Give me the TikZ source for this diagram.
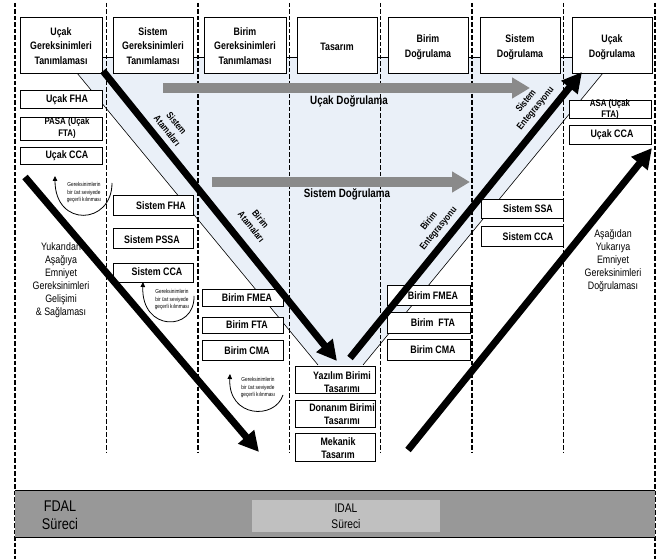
\documentclass[tikz,border=0pt]{standalone}
\usepackage{fontspec}
\setmainfont[FakeStretch=0.82]{Liberation Sans}
\usetikzlibrary{arrows.meta}

\definecolor{vfill}{HTML}{EAF0F8}
\definecolor{arrowgray}{HTML}{8A8A8A}
\definecolor{bandgray}{HTML}{989898}
\definecolor{idalgray}{HTML}{C0C0C0}

\tikzset{
  lane/.style={line width=1.5pt, dash pattern=on 4.5pt off 2pt},
  vedge/.style={line width=0.6pt},
  box/.style={draw, fill=white, line width=0.7pt, inner sep=0pt},
  boxtxt/.style={font=\fontsize{10.8}{13}\selectfont\bfseries, align=center, inner sep=0pt},
  pairtxt/.style={font=\fontsize{9.6}{11.5}\selectfont\bfseries, align=center, inner sep=0pt},
  toptxt/.style={font=\fontsize{10.8}{14.5}\selectfont\bfseries, align=center, inner sep=0pt},
  sidetxt/.style={font=\fontsize{10.8}{13}\selectfont, align=center, inner sep=0pt},
  tinytxt/.style={font=\fontsize{5.8}{7.5}\selectfont, align=center, inner sep=0pt},
  rottxt/.style={font=\fontsize{9.6}{12}\selectfont\bfseries, align=center, inner sep=0pt},
  flowtxt/.style={font=\fontsize{12}{14}\selectfont\bfseries, inner sep=0pt},
  bandtxt/.style={align=center, inner sep=0pt},
  bigarrow/.style={line width=7pt, -{Triangle[length=20pt,width=20pt]}},
  grayarrow/.style={arrowgray, line width=10pt, -{Triangle[length=18pt,width=20pt]}},
  loop/.style={line width=0.8pt, -{Triangle[length=5pt,width=4.5pt]}},
}

% box from corner (x1,y1) to corner (x2,y2), in picture units
\newcommand{\panelbox}[5]{%
  \node[box, minimum width={(#4-#2)*1pt}, minimum height={(#5-#3)*1pt}]
    (#1) at ({(#2+#4)/2},{(#3+#5)/2}) {};}

\begin{document}
\begin{tikzpicture}[x=1pt,y=-1pt]
\useasboundingbox (0,0) rectangle (665,559);

% shaded V between the two level edges
\fill[vfill] (77,57) -- (603,57) -- (603,73) -- (363,365) -- (318,365) -- (77,73) -- cycle;

% link line behind the top row
\coordinate (linkL) at (102,57);
\coordinate (linkR) at (572,57);
\draw[line width=0.6pt] (linkL) -- (linkR);

% swim lanes
\foreach \x in {106.4,197.9,289.3,380.7,472.1,563.6}
  \draw[lane] (\x,3) -- (\x,452);
\draw[lane] (15,3) -- (15,559);
\draw[lane] (655,3) -- (655,559);

% thin edges of the V
\coordinate (vl0) at (77,73);
\coordinate (vl1) at (318,365);
\coordinate (vr0) at (603,73);
\coordinate (vr1) at (363,365);
\draw[vedge] (vl0) -- (vl1);
\draw[vedge] (vr0) -- (vr1);

% top row
\panelbox{t1}{20}{17}{102}{73}
\panelbox{t2}{113}{17}{193}{73}
\panelbox{t3}{204}{17}{286}{73}
\panelbox{t4}{297}{17}{377}{73}
\panelbox{t5}{388}{17}{468}{73}
\panelbox{t6}{480}{17}{560}{73}
\panelbox{t7}{572}{17}{652}{73}
\node[toptxt] (t1t) at (61,46) {Uçak\\Gereksinimleri\\Tanımlaması};
\node[toptxt] (t2t) at (153,46) {Sistem\\Gereksinimleri\\Tanımlaması};
\node[toptxt] (t3t) at (245,46) {Birim\\Gereksinimleri\\Tanımlaması};
\node[toptxt] (t4t) at (337,47) {Tasarım};
\node[toptxt] (t5t) at (428,47) {Birim\\Doğrulama};
\node[toptxt] (t6t) at (520,47) {Sistem\\Doğrulama};
\node[toptxt] (t7t) at (612,47) {Uçak\\Doğrulama};

% aircraft level analyses
\panelbox{a1}{20}{90}{102}{108}
\panelbox{a2}{20}{117}{102}{140}
\panelbox{a3}{20}{147}{102}{164}
\node[boxtxt] (a1t) at (67,99.5) {Uçak FHA};
\node[pairtxt] (a2t) at (67,128) {PASA (Uçak\\FTA)};
\node[boxtxt] (a3t) at (67,156) {Uçak CCA};

% system level analyses
\panelbox{s1}{113}{195}{193}{215}
\panelbox{s2}{113}{228}{193}{248}
\panelbox{s3}{113}{263}{193}{282}
\node[boxtxt] (s1t) at (161,205.5) {Sistem FHA};
\node[boxtxt] (s2t) at (152,240) {Sistem PSSA};
\node[boxtxt] (s3t) at (157,272) {Sistem CCA};

% item level analyses (left)
\panelbox{b1}{202}{289}{283}{306}
\panelbox{b2}{202}{317}{283}{333}
\panelbox{b3}{202}{340}{283}{360}
\node[boxtxt] (b1t) at (247,297.5) {Birim FMEA};
\node[boxtxt] (b2t) at (247,325) {Birim FTA};
\node[boxtxt] (b3t) at (247,350.5) {Birim CMA};

% design boxes
\panelbox{d1}{295}{366}{375}{393}
\panelbox{d2}{295}{400}{375}{427}
\panelbox{d3}{295}{433}{375}{461}
\node[boxtxt] (d1t) at (342,382) {Yazılım Birimi\\Tasarımı};
\node[boxtxt] (d2t) at (342,414) {Donanım Birimi\\Tasarımı};
\node[boxtxt] (d3t) at (338,448) {Mekanik\\Tasarım};

% item level analyses (right)
\panelbox{c1}{387}{285}{470}{305}
\panelbox{c2}{387}{312}{470}{333}
\panelbox{c3}{387}{339}{470}{360}
\node[boxtxt] (c1t) at (433,295.5) {Birim FMEA};
\node[boxtxt] (c2t) at (433,322.5) {Birim\ \ FTA};
\node[boxtxt] (c3t) at (433,349.5) {Birim CMA};

% system level assessments
\panelbox{e1}{481}{199}{563}{218}
\panelbox{e2}{481}{226}{563}{246}
\node[boxtxt] (e1t) at (528,209) {Sistem SSA};
\node[boxtxt] (e2t) at (528,236.5) {Sistem CCA};

% aircraft level assessments
\panelbox{f1}{569}{100}{651}{118}
\panelbox{f2}{569}{125}{651}{144}
\node[pairtxt] (f1t) at (610,109.5) {ASA (Uçak\\FTA)};
\node[boxtxt] (f2t) at (612,135) {Uçak CCA};

% verification flows
\coordinate (g1s) at (163,88);
\coordinate (g1e) at (530,88);
\coordinate (g2s) at (212,182);
\coordinate (g2e) at (470,182);
\draw[grayarrow] (g1s) -- (g1e);
\draw[grayarrow] (g2s) -- (g2e);
\node[flowtxt] (g1t) at (349,101) {Uçak Doğrulama};
\node[flowtxt] (g2t) at (347,194) {Sistem Doğrulama};

% allocation and integration arrows
\coordinate (alS) at (103,71);
\coordinate (alE) at (337,361);
\coordinate (inS) at (350,358);
\coordinate (inE) at (582,72);
\draw[bigarrow] (alS) -- (alE);
\draw[bigarrow] (inS) -- (inE);
\node[rottxt, rotate=-51] (al1) at (172,127) {Sistem\\Atamaları};
\node[rottxt, rotate=-51] (al2) at (256,223) {Birim\\Atamaları};
\node[rottxt, rotate=51] (in1) at (434,225) {Birim\\Entegrasyonu};
\node[rottxt, rotate=51] (in2) at (531,105) {Sistem\\Entegrasyonu};

% top-down and bottom-up safety arrows
\coordinate (tdS) at (25,177);
\coordinate (tdE) at (259,452);
\coordinate (buS) at (408,450);
\coordinate (buE) at (652,148);
\draw[bigarrow] (tdS) -- (tdE);
\draw[bigarrow] (buS) -- (buE);
\node[sidetxt] (tdt) at (61,280) {Yukarıdan\\Aşağıya\\Emniyet\\Gereksinimleri\\Gelişimi\\\& Sağlaması};
\node[sidetxt] (but) at (613,261) {Aşağıdan\\Yukarıya\\Emniyet\\Gereksinimleri\\Doğrulaması};

% validation loops
\coordinate (l1s) at (112,183);
\coordinate (l1e) at (55,176);
\draw[loop] (l1s) .. controls (112,225) and (55,228) .. (l1e);
\node[tinytxt] (l1t) at (84,193) {Gereksinimlerin\\bir üst seviyede\\geçerli kılınması};
\coordinate (l2s) at (194,296);
\coordinate (l2e) at (143,282);
\draw[loop] (l2s) .. controls (195,332) and (141,332) .. (l2e);
\node[tinytxt] (l2t) at (172,300) {Gereksinimlerin\\bir üst seviyede\\geçerli kılınması};
\coordinate (l3s) at (283,395);
\coordinate (l3e) at (230,374);
\draw[loop] (l3s) .. controls (275,420) and (228,418) .. (l3e);
\node[tinytxt] (l3t) at (258,388) {Gereksinimlerin\\bir üst seviyede\\geçerli kılınması};

% assurance level band
\fill[bandgray] (15,490) rectangle (655,537);
\draw[line width=0.8pt] (15,490) -- (655,490);
\draw[line width=0.8pt] (15,537) -- (655,537);
\fill[idalgray] (252,500) rectangle (440,532);
\node[bandtxt, font=\fontsize{15.5}{18.5}\selectfont] (fdal) at (60,515) {FDAL\\Süreci};
\node[bandtxt, font=\fontsize{12.5}{16}\selectfont] (idal) at (346,516) {IDAL\\Süreci};
\end{tikzpicture}
\end{document}
